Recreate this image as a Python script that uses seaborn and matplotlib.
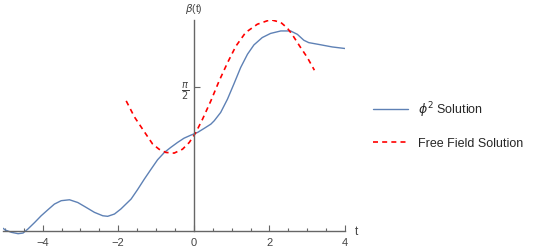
import numpy as np
import pandas as pd
import seaborn as sns
from matplotlib import pyplot as plt
from matplotlib.ticker import MultipleLocator

# phi^2 solution
t_phi = [-5.05, -4.99, -4.83, -4.65, -4.52, -4.39, -4.21, -4.04, -3.86, -3.69,
         -3.51, -3.29, -3.07, -2.85, -2.63, -2.41, -2.28, -2.10, -1.93, -1.66,
         -1.49, -1.31, -1.13, -0.96, -0.78, -0.61, -0.43, -0.26, -0.08, 0.10,
         0.27, 0.45, 0.54, 0.71, 0.89, 1.06, 1.24, 1.42, 1.59, 1.81,
         2.03, 2.30, 2.56, 2.74, 2.91, 3.04, 3.31, 3.66, 4.0]
beta_phi = [0.03, 0.011, -0.014, -0.029, -0.022, 0.022, 0.094, 0.166, 0.232, 0.293,
            0.33, 0.34, 0.31, 0.257, 0.203, 0.166, 0.16, 0.185, 0.24, 0.348,
            0.45, 0.565, 0.674, 0.775, 0.855, 0.91, 0.964, 1.01, 1.043, 1.073,
            1.116, 1.163, 1.20, 1.29, 1.435, 1.60, 1.78, 1.924, 2.025, 2.105,
            2.15, 2.177, 2.177, 2.14, 2.076, 2.05, 2.03, 2.003, 1.986]

# free field solution
t_free = [-1.79, -1.57, -1.31, -1.09, -0.92, -0.74, -0.52, -0.30, -0.12, 0.05,
          0.23, 0.45, 0.67, 0.89, 1.11, 1.37, 1.68, 2.03, 2.30, 2.47,
          2.60, 2.82, 3.0, 3.19]
beta_free = [1.416, 1.24, 1.08, 0.946, 0.89, 0.855, 0.848, 0.89, 0.964, 1.07,
             1.217, 1.416, 1.634, 1.83, 2.01, 2.16, 2.25, 2.30, 2.27, 2.21,
             2.14, 2.0, 1.89, 1.75]

x_ticks = [-4, -2, 0, 2, 4]
x_ticklabels = ['−4', '−2', '0', '2', '4']

sns.set_style("white")
plt.rcParams['font.family'] = ['Liberation Sans', 'DejaVu Sans']
plt.rcParams['mathtext.fontset'] = 'dejavusans'

fig = plt.figure(figsize=(5.35, 2.53), dpi=100)
ax = fig.add_axes([3 / 535, 0.0684, 342 / 535, 0.850])

df_phi = pd.DataFrame({'t': t_phi, 'beta': beta_phi})
df_free = pd.DataFrame({'t': t_free, 'beta': beta_free})
sns.lineplot(data=df_phi, x='t', y='beta', ax=ax, color='#5E81B5', linewidth=1.0,
             label=r'$\phi^2$ Solution', sort=False)
sns.lineplot(data=df_free, x='t', y='beta', ax=ax, color='#FF0000', linewidth=1.2,
             label='Free Field Solution', sort=False)
ax.lines[1].set_dashes((3, 2.5))

ax.set_xlim(-5.05, 4.0)
ax.set_ylim(-0.04, 2.30)

axis_col = '#666666'
ax.spines['left'].set_position(('data', 0))
ax.spines['bottom'].set_position(('data', 0))
ax.spines['top'].set_visible(False)
ax.spines['right'].set_visible(False)
for s in ('left', 'bottom'):
    ax.spines[s].set_color(axis_col)
    ax.spines[s].set_linewidth(1.0)
ax.spines['left'].set_bounds(0, 2.30)

ax.set_xticks(x_ticks)
ax.set_xticklabels(x_ticklabels)
ax.xaxis.set_minor_locator(MultipleLocator(0.5))
ax.set_yticks([np.pi / 2])
ax.set_yticklabels([r'$\frac{\pi}{2}$'])
ax.tick_params(axis='both', which='major', direction='in', length=4, width=0.8,
               color=axis_col, labelsize=8, labelcolor='#444444', pad=4,
               bottom=True, left=True)
ax.tick_params(axis='x', which='minor', direction='in', length=2.5, width=0.8,
               color=axis_col, bottom=True)
ax.tick_params(axis='y', which='major', pad=3, labelsize=10)

ax.set_xlabel('')
ax.set_ylabel('')
ax.text(4.3, 0.0, 't', fontsize=8.5, color='#444444', ha='center', va='center')
ax.text(0, 2.43, r'$\beta$(t)', fontsize=7.5, color='#444444', ha='center', va='center')

ax.legend(loc='center left', bbox_to_anchor=(362 / 535, 0.505), bbox_transform=fig.transFigure,
          frameon=False, fontsize=9, handlelength=2.8, handletextpad=0.8,
          labelspacing=1.5)

plt.savefig("out.png", dpi=100)
